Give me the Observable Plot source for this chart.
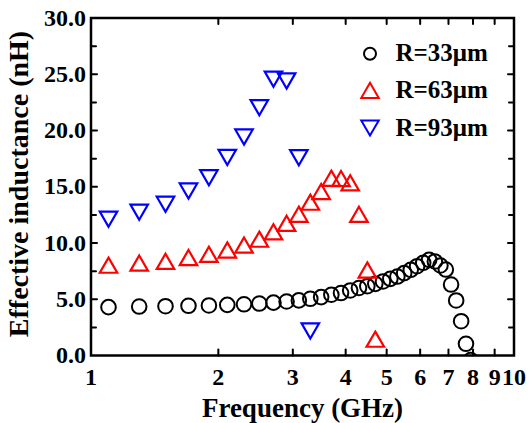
<!DOCTYPE html>
<html><head><meta charset="utf-8">
<script src="https://cdn.jsdelivr.net/npm/d3@7"></script>
<script src="https://cdn.jsdelivr.net/npm/@observablehq/plot@0.6"></script>
<style>
html,body{margin:0;padding:0;background:#fff;}
[aria-label="x-title"] text{letter-spacing:-1px;}
[aria-label="y-ticklabels"] text{letter-spacing:1px;}
</style></head><body><div id="chart"></div>
<script>
// ---- data ----
const freq33 = [1.1,1.3,1.5,1.7,1.9,2.1,2.3,2.5,2.7,2.9,3.1,3.3,3.5,3.7,3.9,4.1,4.3,4.5,4.7,4.9,5.1,5.3,5.5,5.7,5.9,6.1,6.3,6.5,6.7,6.9,7.1,7.3,7.5,7.7,7.9];
const ind33  = [4.30,4.35,4.38,4.42,4.45,4.50,4.55,4.62,4.70,4.80,4.90,5.04,5.19,5.40,5.55,5.78,6.00,6.16,6.37,6.58,6.81,7.02,7.32,7.62,7.94,8.24,8.50,8.36,8.00,7.64,6.31,4.89,3.05,1.04,-0.4];
const freq63 = [1.1,1.3,1.5,1.7,1.9,2.1,2.3,2.5,2.7,2.9,3.1,3.3,3.5,3.7,3.9,4.1,4.3,4.5,4.7];
const ind63  = [8.03,8.22,8.37,8.71,8.99,9.38,9.81,10.34,10.99,11.75,12.56,13.63,14.58,15.76,15.73,15.35,12.55,7.60,1.45];
const freq93 = [1.1,1.3,1.5,1.7,1.9,2.1,2.3,2.5,2.7,2.9,3.1,3.3];
const ind93  = [12.12,12.74,13.44,14.62,15.81,17.61,19.42,22.03,24.56,24.40,17.58,2.18];
const seriesNames = ["R=33μm","R=63μm","R=93μm"];
const seriesColors = ["#000000","#ff0000","#0000ff"];
const xTicks = [1,2,3,4,5,6,7,8,9,10];
const yTicks = [0,5,10,15,20,25,30];
const yMinorTicks = [2.5,7.5,12.5,17.5,22.5,27.5];
const xTitle = "Frequency (GHz)";
const yTitle = "Effective inductance (nH)";

// ---- tables ----
const data33 = freq33.map((f,i)=>({f, L: ind33[i]}));
const data63 = freq63.map((f,i)=>({f, L: ind63[i]}));
const data93 = freq93.map((f,i)=>({f, L: ind93[i]}));

// bounding-box centred triangles (as in the original plotting program)
const triUp = {draw(ctx, size){const r=Math.sqrt(size/Math.PI), s=2.5*r, h=s*Math.sqrt(3)/2;
  ctx.moveTo(0,-h/2); ctx.lineTo(s/2,h/2); ctx.lineTo(-s/2,h/2); ctx.closePath();}};
const triDown = {draw(ctx, size){const r=Math.sqrt(size/Math.PI), s=2.5*r, h=s*Math.sqrt(3)/2;
  ctx.moveTo(0,h/2); ctx.lineTo(s/2,-h/2); ctx.lineTo(-s/2,-h/2); ctx.closePath();}};
const symbols = ["circle", triUp, triDown];
const legendR = [6, 7, 7];
const legendDy = [35.8, 72.3, 110];

// straight tick shape for vector marks
const tickShape = {draw(ctx, l){ ctx.moveTo(0, 0); ctx.lineTo(0, -l); }};
const innerTicks = ticks => ticks.slice(1, -1);
const xIn = innerTicks(xTicks), yIn = innerTicks(yTicks);

const tickMarks = [
  Plot.vector(xIn, {x: d => d, frameAnchor: "bottom", length: 6, rotate: 0, anchor: "start", shape: tickShape, stroke: "#000", strokeWidth: 2}),
  Plot.vector(xIn, {x: d => d, frameAnchor: "top", length: 6, rotate: 180, anchor: "start", shape: tickShape, stroke: "#000", strokeWidth: 2}),
  Plot.vector(yIn, {y: d => d, frameAnchor: "left", length: 6, rotate: 90, anchor: "start", shape: tickShape, stroke: "#000", strokeWidth: 2}),
  Plot.vector(yIn, {y: d => d, frameAnchor: "right", length: 6, rotate: -90, anchor: "start", shape: tickShape, stroke: "#000", strokeWidth: 2}),
  Plot.vector(yMinorTicks, {y: d => d, frameAnchor: "left", length: 5, rotate: 90, anchor: "start", shape: tickShape, stroke: "#000", strokeWidth: 2}),
  Plot.vector(yMinorTicks, {y: d => d, frameAnchor: "right", length: 5, rotate: -90, anchor: "start", shape: tickShape, stroke: "#000", strokeWidth: 2})
];

const legendMarks = seriesNames.flatMap((name, i) => [
  Plot.dot([name], {frameAnchor: "top-left", dx: 279, dy: legendDy[i], r: legendR[i],
    symbol: symbols[i], stroke: seriesColors[i], strokeWidth: 2, fill: "none"}),
  Plot.text([name], {frameAnchor: "top-left", dx: 304.5, dy: legendDy[i] - 0.5, text: d => d,
    textAnchor: "start", lineAnchor: "middle", fontSize: 25, fontWeight: "bold"})
]);

const plot = Plot.plot({
  width: 529, height: 423,
  marginLeft: 90.5, marginRight: 15.5, marginTop: 17.5, marginBottom: 68,
  style: {fontFamily: "'Liberation Serif','Times New Roman',serif", fontWeight: "bold", background: "#fff", color: "#000", overflow: "visible"},
  x: {type: "log", domain: [1, 10], axis: null},
  y: {domain: [0, 30], axis: null},
  marks: [
    ...tickMarks,
    // tick labels
    Plot.text(xTicks, {x: d => d, frameAnchor: "bottom", dy: 12, lineAnchor: "top", textAnchor: "middle", text: d => String(d), fontSize: 24}),
    Plot.text(yTicks, {y: d => d, frameAnchor: "left", dx: -5, lineAnchor: "middle", textAnchor: "end", text: d => d.toFixed(1), fontSize: 24, ariaLabel: "y-ticklabels"}),
    Plot.frame({stroke: "#000", strokeWidth: 2.5}),
    // data
    Plot.dot(data33, {x: "f", y: "L", r: 7.3, stroke: seriesColors[0], strokeWidth: 2, fill: "none", clip: true}),
    Plot.dot(data63, {x: "f", y: "L", r: 7, symbol: triUp, stroke: seriesColors[1], strokeWidth: 2.2, fill: "none"}),
    Plot.dot(data93, {x: "f", y: "L", r: 7, symbol: triDown, stroke: seriesColors[2], strokeWidth: 2.2, fill: "none"}),
    // titles
    Plot.text([xTitle], {frameAnchor: "bottom", dy: 52.4, lineAnchor: "middle", textAnchor: "middle", text: d => d, fontSize: 27, fontWeight: "bold", ariaLabel: "x-title"}),
    Plot.text([yTitle], {frameAnchor: "left", dx: -71.5, dy: -2.75, rotate: -90, lineAnchor: "middle", textAnchor: "middle", text: d => d, fontSize: 28, fontWeight: "bold"}),
    ...legendMarks
  ]
});
document.getElementById("chart").appendChild(plot);
</script>
</body></html>
